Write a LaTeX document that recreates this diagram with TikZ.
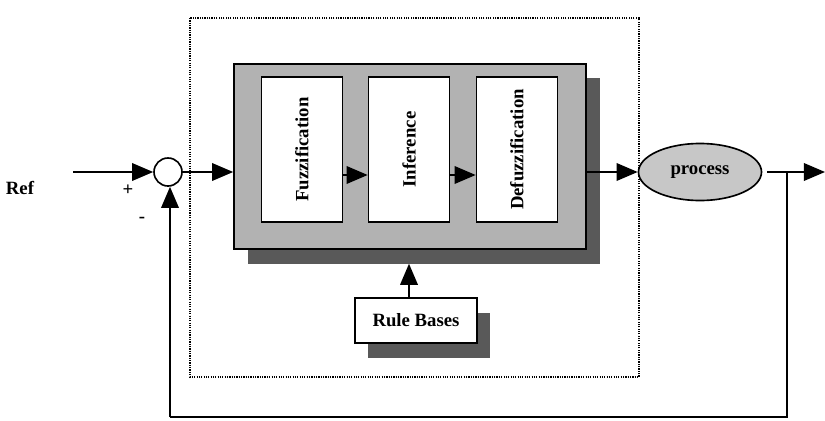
\documentclass[tikz,border=0pt]{standalone}
\usepackage{fontspec}
\setmainfont{Liberation Serif}
\usetikzlibrary{shapes.geometric, arrows.meta, positioning}
\tikzstyle{arrow} = [line width=1.4pt,-{Triangle[length=18pt,width=15pt]}]

\begin{document}
\begin{tikzpicture}[
  x=0.03cm, y=-0.03cm,
  font=\fontsize{16}{18}\selectfont\bfseries,
  panel/.style={rectangle, draw, line width=1.4pt, fill=black!30, minimum width=10.56cm, minimum height=5.55cm},
  shadow/.style={rectangle, fill=black!65, inner sep=0pt},
  stage/.style={rectangle, draw, line width=1.4pt, fill=white, minimum width=2.43cm, minimum height=4.35cm},
  rulebox/.style={rectangle, draw, line width=1.4pt, fill=white, minimum width=3.66cm, minimum height=1.35cm},
  summer/.style={circle, draw, line width=1.4pt, fill=white, minimum size=0.84cm, inner sep=0pt},
  plant/.style={ellipse, draw, line width=1.4pt, fill=black!22, minimum width=3.69cm, minimum height=1.71cm},
  wire/.style={line width=1.4pt}
]
\useasboundingbox (0,0) rectangle (825,420);

% controller boundary
\draw[densely dotted, line width=1pt] (190,18) rectangle (639,377);

% reference and summing point
\node (ref) at (20,188) {Ref};
\coordinate (in) at (73,172);
\node[summer] (sum) at (168,172) {};
\node (plus) at (128,190) {+};
\node (minus) at (142,220) {-};

% fuzzy controller
\node[shadow, minimum width=10.56cm, minimum height=5.55cm] (panelshadow) at (424,171) {};
\node[panel] (panel) at (410,156.5) {};
\node[stage] (fuzz) at (302,149.5) {\rotatebox{90}{Fuzzification}};
\node[stage] (inf) at (409,149.5) {\rotatebox{90}{Inference}};
\node[stage] (defuzz) at (517,149.5) {\rotatebox{90}{Defuzzification}};

% rule bases
\node[shadow, minimum width=3.66cm, minimum height=1.35cm] (ruleshadow) at (429,335) {};
\node[rulebox] (rules) at (416,320.5) {\raisebox{-8pt}{Rule Bases}};

% process
\node[plant] (proc) at (700,172) {\raisebox{-6pt}{process}};
\coordinate (out) at (825,172);
\coordinate (branch) at (787,172);
\coordinate (fbright) at (787,417);
\coordinate (fbleft) at (170,417);

% signal flow
\draw[arrow] (in) -- (sum.west);
\draw[arrow] (sum.east) -- (panel.west |- sum);
\draw[arrow] (fuzz.east |- 0,175) -- (inf.west |- 0,175);
\draw[arrow] (inf.east |- 0,175) -- (defuzz.west |- 0,175);
\draw[arrow] (panel.east |- sum) -- (proc.west);
\draw[arrow] ([xshift=5*0.03cm]proc.east) -- (out);
\draw[arrow] (rules.north -| inf) -- (inf |- panelshadow.south);

% feedback
\draw[wire] (branch) -- (fbright) -- (fbleft);
\draw[arrow] (fbleft) -- (sum.south -| fbleft);
\end{tikzpicture}
\end{document}
